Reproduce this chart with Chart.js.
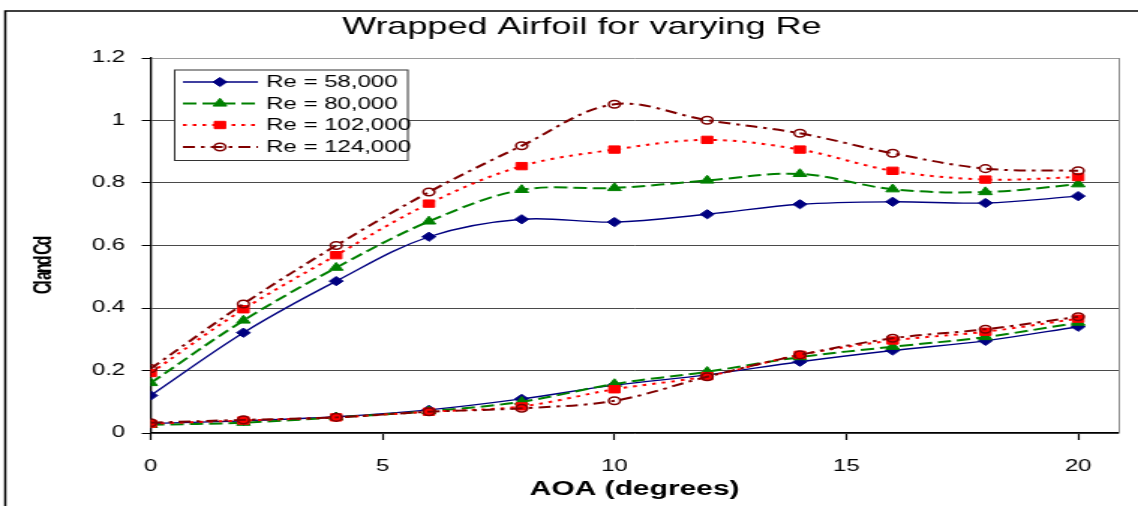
<!DOCTYPE html>
<html>
<head>
<meta charset="utf-8">
<title>Wrapped Airfoil for varying Re</title>
<script src="https://cdn.jsdelivr.net/npm/chart.js@4/dist/chart.umd.min.js"></script>
<style>
  html, body { margin: 0; padding: 0; background: #fff; overflow: hidden; }
  #chart { display: block; }
</style>
</head>
<body>
<canvas id="chart" width="759" height="506" style="width:1138px;height:506px"></canvas>
<script>
// Angle of attack (degrees)
const aoa = [0, 2, 4, 6, 8, 10, 12, 14, 16, 18, 20];

// Lift coefficient per Reynolds number
const cl58  = [0.120, 0.321, 0.486, 0.628, 0.684, 0.675, 0.700, 0.732, 0.740, 0.736, 0.758];
const cl80  = [0.160, 0.360, 0.529, 0.677, 0.778, 0.784, 0.808, 0.829, 0.780, 0.771, 0.796];
const cl102 = [0.192, 0.396, 0.569, 0.734, 0.854, 0.907, 0.938, 0.907, 0.839, 0.811, 0.819];
const cl124 = [0.206, 0.413, 0.600, 0.771, 0.919, 1.052, 1.001, 0.959, 0.895, 0.846, 0.839];

// Drag coefficient per Reynolds number
const cd58  = [0.030, 0.039, 0.052, 0.074, 0.109, 0.153, 0.186, 0.228, 0.264, 0.295, 0.340];
const cd80  = [0.026, 0.033, 0.050, 0.070, 0.100, 0.157, 0.196, 0.243, 0.276, 0.307, 0.353];
const cd102 = [0.030, 0.040, 0.050, 0.068, 0.085, 0.140, 0.182, 0.250, 0.296, 0.324, 0.366];
const cd124 = [0.033, 0.042, 0.050, 0.068, 0.079, 0.103, 0.180, 0.250, 0.303, 0.332, 0.372];

const seriesNames = ['Re = 58,000', 'Re = 80,000', 'Re = 102,000', 'Re = 124,000'];
const xTicks = [0, 5, 10, 15, 20];
const yTicks = [0, 0.2, 0.4, 0.6, 0.8, 1, 1.2];

const FONT = "'Liberation Sans', Arial, Helvetica, sans-serif";

const styles = [
  { color: '#000080', width: 1.3, dash: [],              point: 'rectRot',  radius: 4.6, fill: '#000080' },
  { color: '#008000', width: 2,   dash: [9, 4],          point: 'triangle', radius: 5.2, fill: '#008000' },
  { color: '#FF0000', width: 2,   dash: [2.5, 4],        point: 'rect',     radius: 5.2, fill: '#FF0000' },
  { color: '#800000', width: 2,   dash: [8, 4, 2.5, 4],  point: 'circle',   radius: 3.8, fill: 'rgba(0,0,0,0)' }
];

const toPoints = (ys) => aoa.map((x, i) => ({ x, y: ys[i] }));
const clSets = [cl58, cl80, cl102, cl124];
const cdSets = [cd58, cd80, cd102, cd124];

const datasets = [];
styles.forEach((s, i) => {
  [clSets[i], cdSets[i]].forEach((ys, k) => {
    datasets.push({
      label: seriesNames[i],
      data: toPoints(ys),
      showInLegend: k === 0,
      order: 4 - i,
      borderColor: s.color,
      borderWidth: s.width,
      borderDash: s.dash,
      tension: 0.35,
      fill: false,
      pointStyle: s.point,
      pointRadius: s.radius,
      pointHoverRadius: s.radius,
      pointBackgroundColor: s.fill,
      pointBorderColor: s.color,
      pointBorderWidth: s.point === 'circle' ? 1.5 : 1
    });
  });
});

// White background and the outer chart frame
const framePlugin = {
  id: 'frame',
  beforeDraw(chart) {
    const ctx = chart.ctx;
    ctx.save();
    ctx.fillStyle = '#fff';
    ctx.fillRect(0, 0, chart.width, chart.height);
    ctx.strokeStyle = '#000';
    ctx.lineWidth = 1.5;
    ctx.beginPath();
    ctx.moveTo(3.5, chart.height);
    ctx.lineTo(3.5, 11);
    ctx.lineTo(chart.width, 11);
    ctx.stroke();
    ctx.restore();
  },
  afterDraw(chart) {
    const { ctx, chartArea } = chart;
    ctx.save();
    // right edge of the plot area
    ctx.strokeStyle = '#8a8a8a';
    ctx.lineWidth = 1;
    ctx.beginPath();
    ctx.moveTo(chartArea.right + 0.5, chartArea.top);
    ctx.lineTo(chartArea.right + 0.5, chartArea.bottom);
    ctx.stroke();

    // vertical axis title
    ctx.translate(29.5, 266);
    ctx.rotate(-Math.PI / 2);
    ctx.font = 'bold 16px ' + FONT;
    if ('letterSpacing' in ctx) ctx.letterSpacing = '-2px';
    ctx.fillStyle = '#000';
    ctx.textAlign = 'center';
    ctx.textBaseline = 'middle';
    ctx.fillText('Cl and Cd', 0, 0);
    ctx.restore();
  }
};

// Boxed legend inside the plot area: line sample, marker, label
const legendPlugin = {
  id: 'boxLegend',
  afterDraw(chart) {
    const ctx = chart.ctx;
    const box = { left: 116.5, top: 70, right: 272, bottom: 160.5 };
    const rows = [82, 103.5, 125, 147];
    ctx.save();
    ctx.fillStyle = '#fff';
    ctx.fillRect(box.left, box.top, box.right - box.left, box.bottom - box.top);
    ctx.strokeStyle = '#333';
    ctx.lineWidth = 1;
    ctx.strokeRect(box.left, box.top, box.right - box.left, box.bottom - box.top);

    const legendSets = chart.data.datasets.filter(d => d.showInLegend);
    legendSets.forEach((ds, i) => {
      const y = rows[i];
      ctx.save();
      ctx.strokeStyle = ds.borderColor;
      ctx.lineWidth = ds.borderWidth;
      ctx.setLineDash(ds.borderDash);
      ctx.beginPath();
      ctx.moveTo(122, y);
      ctx.lineTo(172, y);
      ctx.stroke();
      ctx.restore();

      ctx.save();
      ctx.fillStyle = ds.pointBackgroundColor;
      ctx.strokeStyle = ds.pointBorderColor;
      ctx.lineWidth = ds.pointBorderWidth;
      Chart.helpers.drawPoint(ctx, { pointStyle: ds.pointStyle, radius: ds.pointRadius, rotation: 0, borderWidth: ds.pointBorderWidth }, 146.7, y);
      ctx.restore();

      ctx.fillStyle = '#000';
      ctx.font = '16px ' + FONT;
      ctx.textAlign = 'left';
      ctx.textBaseline = 'middle';
      ctx.fillText(ds.label, 177.5, y + 1);
    });
    ctx.restore();
  }
};

new Chart(document.getElementById('chart'), {
  type: 'line',
  data: { datasets },
  options: {
    responsive: false,
    animation: false,
    devicePixelRatio: 1,
    layout: { padding: { left: 30, right: 13, top: 0, bottom: 0 } },
    plugins: {
      legend: { display: false },
      tooltip: { enabled: false },
      title: {
        display: true,
        text: 'Wrapped Airfoil for varying Re',
        color: '#000',
        font: { family: FONT, size: 24, weight: 'normal', lineHeight: 1.2 },
        padding: { top: 13, bottom: 16.2 }
      }
    },
    scales: {
      x: {
        type: 'linear',
        min: 0,
        max: 20.87,
        afterFit(scale) { scale.height = 73; },
        afterBuildTicks(scale) { scale.ticks = xTicks.map(v => ({ value: v })); },
        ticks: {
          color: '#000',
          font: { family: FONT, size: 16 },
          padding: 17,
          maxRotation: 0,
          callback: (v) => String(v)
        },
        grid: { drawOnChartArea: false, drawTicks: true, tickLength: 7, tickColor: '#000', tickWidth: 1.2 },
        border: { display: true, color: '#000', width: 1.3 },
        title: {
          display: true,
          text: 'AOA (degrees)',
          color: '#000',
          font: { family: FONT, size: 20, weight: 'bold', lineHeight: 1.2 },
          padding: { top: 0, bottom: 5 }
        }
      },
      y: {
        min: 0,
        max: 1.2,
        afterFit(scale) { scale.width = 70.5; },
        afterBuildTicks(scale) { scale.ticks = yTicks.map(v => ({ value: v })); },
        ticks: {
          color: '#000',
          font: { family: FONT, size: 16 },
          padding: 11,
          callback: (v) => String(Number(v.toFixed(1)))
        },
        grid: {
          color: (c) => (c.tick && c.tick.value === 1.2 ? '#9a9a9a' : '#4a4a4a'),
          lineWidth: 1,
          drawTicks: true,
          tickLength: 6,
          tickColor: '#000'
        },
        border: { display: true, color: '#000', width: 1.3 }
      }
    }
  },
  plugins: [framePlugin, legendPlugin]
});
</script>
</body>
</html>
